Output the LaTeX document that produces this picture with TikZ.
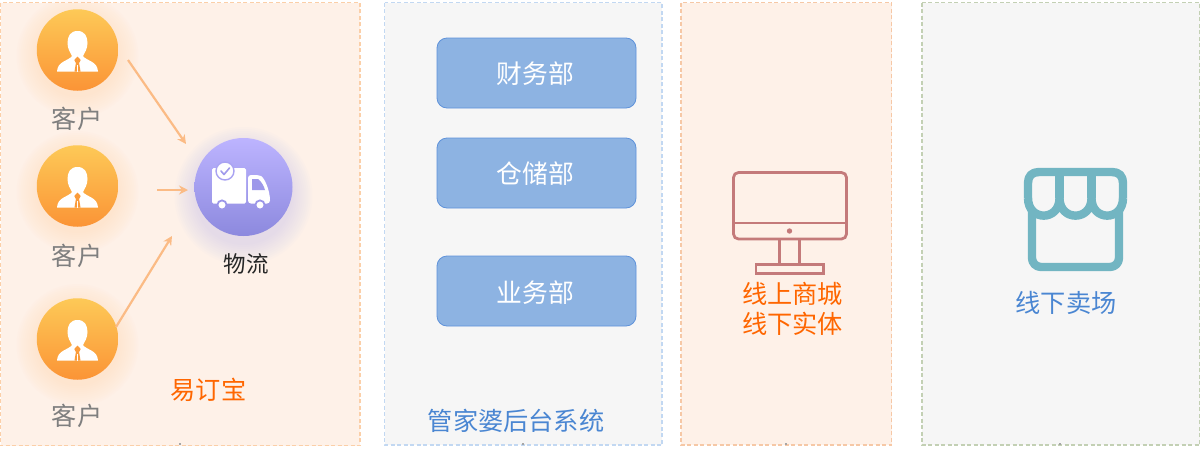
\documentclass[tikz,border=0pt]{standalone}
\usepackage{fontspec}
\setmainfont{Noto Sans CJK SC}
\usetikzlibrary{arrows.meta}
\definecolor{panelwarm}{HTML}{FEF1E8}
\definecolor{panelgray}{HTML}{F6F6F6}
\definecolor{edgeA}{HTML}{FBCFA8}
\definecolor{edgeB}{HTML}{C2D8F2}
\definecolor{edgeC}{HTML}{F6C8A6}
\definecolor{edgeD}{HTML}{C3D0B4}
\definecolor{orangetop}{HTML}{FDC957}
\definecolor{orangebot}{HTML}{FB9436}
\definecolor{purpletop}{HTML}{BDB4FF}
\definecolor{purplebot}{HTML}{8C89DE}
\definecolor{arrowc}{HTML}{FBBB85}
\definecolor{deptfill}{HTML}{8DB3E2}
\definecolor{deptedge}{HTML}{5F92DA}
\definecolor{greytxt}{HTML}{7F7F7F}
\definecolor{orangetxt}{HTML}{FF6600}
\definecolor{bluetxt}{HTML}{4A86D2}
\definecolor{monitorc}{HTML}{C47A7A}
\definecolor{storec}{HTML}{72B5C2}
\tikzset{
  x=1pt,y=-1pt,
  panel/.style={dashed,dash pattern=on 4pt off 2.5pt,line width=1.1pt},
  person/.style={circle,draw=none,minimum size=81.5pt,inner sep=0pt,top color=orangetop,bottom color=orangebot},
  truckdisc/.style={circle,draw=none,minimum size=98pt,inner sep=0pt,top color=purpletop,bottom color=purplebot},
  dept/.style={draw=deptedge,line width=.8pt,fill=deptfill,rounded corners=10pt,minimum width=199pt,minimum height=70pt,inner sep=0pt},
  depttext/.style={inner sep=0pt,text=white,font=\fontsize{25.8}{26}\selectfont},
  lbl/.style={inner sep=0pt,font=\fontsize{25.2}{26}\selectfont},
  flow/.style={draw=arrowc,line width=2.2pt,-{Stealth[length=9pt,width=9pt]}},
  mon/.style={draw=monitorc,line width=2.8pt},
  shop/.style={draw=storec,line width=8.4pt,line join=round}
}
\newcommand{\glow}[5]{% x y r colour opacity
  \foreach \dr in {20,18,...,0}{\fill[#4,opacity=#5] (#1,#2) circle[radius=#3+\dr];}}
\newcommand{\personicon}[2]{%
  \begin{scope}[shift={(#1,#2)}]
    \fill[white] (0,-19) .. controls (7,-19) and (10,-14) .. (10,-7) .. controls (10,-1) and (7,3) .. (5.5,6)
      .. controls (9,11) and (20,11) .. (20.5,21.5) -- (-20.5,21.5) .. controls (-20,11) and (-9,11) .. (-5.5,6)
      .. controls (-7,3) and (-10,-1) .. (-10,-7) .. controls (-10,-14) and (-7,-19) .. (0,-19) -- cycle;
    \fill[orangebot!85!orangetop] (0,6.5) -- (3.2,10) -- (1.6,13) -- (3,21.5) -- (-3,21.5) -- (-1.6,13) -- (-3.2,10) -- cycle;
    \fill[white] (-.9,14.5) rectangle (.9,21.5);
  \end{scope}}
\begin{document}
\begin{tikzpicture}
\useasboundingbox (0,0) rectangle (1200,461);
\fill[white] (0,0) rectangle (1200,461);
% panels
\filldraw[panel,fill=panelwarm,draw=edgeA] (0.5,2.5) rectangle (360,445.5);
\filldraw[panel,fill=panelgray,draw=edgeB] (384.5,2.5) rectangle (662,445);
\filldraw[panel,fill=panelwarm,draw=edgeC] (681,2.5) rectangle (891.5,445);
\filldraw[panel,fill=panelgray,draw=edgeD] (922,2.5) rectangle (1199.5,445);
\foreach \mx in {180,523,786,1060}{\fill[gray!70] (\mx-1,442.5) rectangle (\mx+1,445);}
% glows
\glow{77.5}{56}{41}{orange!45}{.022}
\glow{77.5}{192}{41}{orange!45}{.022}
\glow{77.5}{345}{41}{orange!45}{.022}
\glow{243.5}{196}{49}{purplebot!70}{.028}
% people
\node[person] (c1) at (77.5,50) {};
\node[person] (c2) at (77.5,186) {};
\node[person] (c3) at (77.5,339) {};
\personicon{77.5}{50}
\personicon{77.5}{186}
\personicon{77.5}{339}
\node[lbl,text=greytxt] (l1) at (77,119) {客户};
\node[lbl,text=greytxt] (l2) at (77,255.5) {客户};
\node[lbl,text=greytxt] (l3) at (77,415.5) {客户};
% logistics
\node[truckdisc] (w) at (243.5,187) {};
\fill[white,rounded corners=1.5pt] (212,168) rectangle (246,203.5);
\fill[white,rounded corners=3pt] (248,175) -- (258,175) .. controls (264,177) and (270,190) .. (270,203.5) -- (248,203.5) -- cycle;
\fill[purpletop!35!purplebot] (252,179) -- (258,179) .. controls (261,181) and (264,186) .. (265,190) -- (252,190) -- cycle;
\filldraw[draw=purpletop!60!purplebot,line width=1.4pt,fill=white] (225,171) circle[radius=9];
\draw[purpletop!40!purplebot,line width=1.6pt,line cap=round,line join=round] (221,171) -- (224,174.5) -- (229.5,168);
\filldraw[draw=purpletop!30!purplebot,line width=1.8pt,fill=white] (222,205) circle[radius=4.6];
\filldraw[draw=purpletop!30!purplebot,line width=1.8pt,fill=white] (260,205) circle[radius=4.6];
\node[inner sep=0pt,text=black!85,font=\fontsize{22.5}{22.5}\selectfont] (wl) at (246,263.5) {物流};
% connectors
\coordinate (a1s) at (128,60);
\coordinate (a1e) at (186,144);
\coordinate (a2s) at (157,190);
\coordinate (a2e) at (188,190);
\coordinate (a3s) at (116,327);
\coordinate (a3e) at (172,236);
\draw[flow] (a1s) -- (a1e);
\draw[flow] (a2s) -- (a2e);
\draw[flow] (a3s) -- (a3e);
\node[lbl,text=orangetxt] (yd) at (208.5,389.5) {易订宝};
% departments
\node[dept] (d1) at (536.5,73) {};
\node[dept] (d2) at (536.5,173) {};
\node[dept] (d3) at (536.5,291) {};
\node[depttext] (t1) at (535.5,74) {财务部};
\node[depttext] (t2) at (535.5,174) {仓储部};
\node[depttext] (t3) at (535.5,292.5) {业务部};
\node[lbl,text=bluetxt] (gj) at (516,420.5) {管家婆后台系统};
% monitor
\draw[mon,rounded corners=5pt] (733.5,172.5) rectangle (846.5,239);
\draw[mon] (733.5,223) -- (846.5,223);
\fill[monitorc] (789.5,231) circle[radius=2.7];
\draw[mon] (779.5,239) -- (779.5,264.5) (799.5,239) -- (799.5,264.5);
\draw[mon] (756,264.5) rectangle (823.5,273.5);
\node[lbl,text=orangetxt] (s1) at (792.5,293.5) {线上商城};
\node[lbl,text=orangetxt] (s2) at (792.5,323.5) {线下实体};
% store
\draw[shop,rounded corners=9pt] (1032,209) -- (1032,267) -- (1119,267) -- (1119,209);
\draw[shop] (1028,198) -- (1028,183) .. controls (1028,176) and (1032,172) .. (1039,172) -- (1112,172)
  .. controls (1119,172) and (1123,176) .. (1123,183) -- (1123,198);
\draw[shop] (1028,198) .. controls (1028,221.5) and (1059.5,221.5) .. (1059.5,198)
  .. controls (1059.5,221.5) and (1091.5,221.5) .. (1091.5,198)
  .. controls (1091.5,221.5) and (1123,221.5) .. (1123,198);
\draw[shop] (1059.5,172) -- (1059.5,198) (1091.5,172) -- (1091.5,198);
\node[lbl,text=bluetxt] (xx) at (1066,302.5) {线下卖场};
\end{tikzpicture}
\end{document}
